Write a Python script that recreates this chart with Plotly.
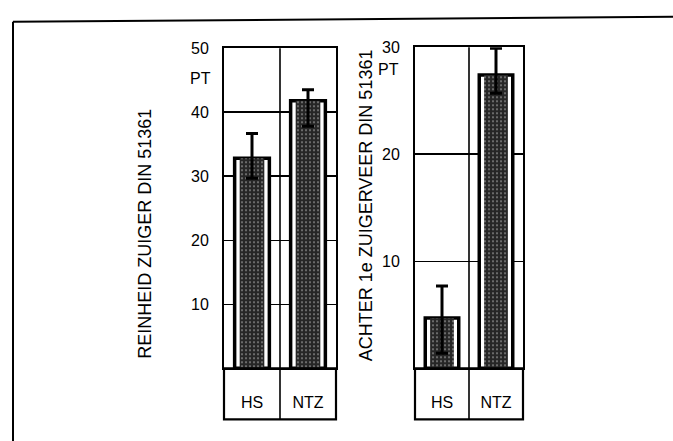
import plotly.graph_objects as go

# ---- data ----
categories = ["HS", "NTZ"]

reinheid_mean = [32.8, 41.8]
reinheid_upper = [36.7, 43.5]
reinheid_lower = [29.7, 37.8]

achter_mean = [4.7, 27.4]
achter_upper = [7.7, 29.9]
achter_lower = [1.4, 25.7]

left_ticks = [10, 20, 30, 40, 50]
right_ticks = [10, 20, 30]
left_title = "REINHEID ZUIGER DIN 51361"
right_title = "ACHTER 1e ZUIGERVEER DIN 51361"
unit_label = "PT"

# ---- layout geometry (pixels) ----
W, H = 673, 441
FONT = "Liberation Sans, Arial, Helvetica, sans-serif"


def px_x(p):
    return p / W


def px_y(p):
    return 1 - p / H


left_box = dict(x0=224, x1=336, y0=41, y1=367)
right_box = dict(x0=415, x1=523, y0=40, y1=367)
row_h = 52  # height of category row under each panel

fig = go.Figure()


def add_panel(mean, upper, lower, xa, ya):
    plus = [u - m for u, m in zip(upper, mean)]
    minus = [m - l for m, l in zip(mean, lower)]
    fig.add_trace(go.Bar(
        x=categories, y=mean, width=0.62, xaxis=xa, yaxis=ya,
        marker=dict(color="white", line=dict(color="black", width=3.5)),
        hoverinfo="skip",
    ))
    fig.add_trace(go.Bar(
        x=categories, y=mean, width=0.44, xaxis=xa, yaxis=ya,
        marker=dict(
            color="#262626",
            line=dict(width=0),
            pattern=dict(shape=".", fgcolor="#d0d0d0", size=4,
                         solidity=0.22, fillmode="overlay"),
        ),
        error_y=dict(type="data", symmetric=False, array=plus,
                     arrayminus=minus, color="black", thickness=3, width=6),
    ))


add_panel(reinheid_mean, reinheid_upper, reinheid_lower, "x", "y")
add_panel(achter_mean, achter_upper, achter_lower, "x2", "y2")


def xaxis_cfg(box):
    return dict(
        domain=[px_x(box["x0"]), px_x(box["x1"])],
        type="category", range=[-0.5, 1.5],
        showline=True, mirror=True, linecolor="black", linewidth=2,
        showgrid=False, zeroline=False, ticks="",
        ticklabelstandoff=18,
        tickfont=dict(family=FONT, size=16, color="black"),
        fixedrange=True,
    )


def yaxis_cfg(box, rng, ticks, anchor):
    return dict(
        domain=[px_y(box["y1"]), px_y(box["y0"])],
        range=rng, tickvals=ticks, ticktext=[str(t) for t in ticks],
        showline=True, mirror=True, linecolor="black", linewidth=2,
        showgrid=True, gridcolor="black", gridwidth=1.6,
        zeroline=False, ticks="", ticklabelstandoff=10,
        tickfont=dict(family=FONT, size=16, color="black"),
        anchor=anchor, fixedrange=True,
    )


fig.update_layout(
    width=W, height=H,
    margin=dict(l=0, r=0, t=0, b=0),
    paper_bgcolor="white", plot_bgcolor="white",
    showlegend=False, barmode="overlay",
    font=dict(family=FONT, color="black"),
    xaxis=dict(xaxis_cfg(left_box), anchor="y"),
    yaxis=yaxis_cfg(left_box, [0, 50], left_ticks, "x"),
    xaxis2=dict(xaxis_cfg(right_box), anchor="y2"),
    yaxis2=yaxis_cfg(right_box, [0, 30], right_ticks, "x2"),
)

shapes = []
for xa, ya, box in (("x", "y", left_box), ("x2", "y2", right_box)):
    frac = row_h / (box["y1"] - box["y0"])
    shapes.append(dict(type="rect", xref=f"{xa} domain", yref=f"{ya} domain",
                       x0=0, x1=1, y0=-frac, y1=0,
                       line=dict(color="black", width=2.2)))
    shapes.append(dict(type="line", xref=xa, yref=f"{ya} domain",
                       x0=0.5, x1=0.5, y0=-frac, y1=1,
                       line=dict(color="black", width=1.6), layer="below"))

# outer scan frame (top and left edges)
shapes.append(dict(type="line", xref="paper", yref="paper",
                   x0=px_x(13), x1=1, y0=px_y(14), y1=px_y(9),
                   line=dict(color="black", width=2)))
shapes.append(dict(type="line", xref="paper", yref="paper",
                   x0=px_x(13), x1=px_x(13), y0=px_y(14), y1=0,
                   line=dict(color="black", width=2)))
fig.update_layout(shapes=shapes)

annotations = [
    dict(text=unit_label, xref="paper", yref="paper", x=px_x(213), y=px_y(72),
         xanchor="right", yanchor="middle", showarrow=False,
         font=dict(family=FONT, size=16, color="black")),
    dict(text=unit_label, xref="paper", yref="paper", x=px_x(401), y=px_y(63),
         xanchor="right", yanchor="middle", showarrow=False,
         font=dict(family=FONT, size=16, color="black")),
    dict(text=left_title, xref="paper", yref="paper", x=px_x(145), y=px_y(230),
         xanchor="center", yanchor="middle", textangle=-90, showarrow=False,
         font=dict(family=FONT, size=18, color="black")),
    dict(text=right_title, xref="paper", yref="paper", x=px_x(366), y=px_y(201),
         xanchor="center", yanchor="middle", textangle=-90, showarrow=False,
         font=dict(family=FONT, size=18, color="black")),
]
fig.update_layout(annotations=annotations)

fig.write_html(
    "out.html",
    config={"displayModeBar": False, "staticPlot": True},
    post_script="document.body.style.margin='0';"
                "document.body.style.padding='0';"
                "document.documentElement.style.overflow='hidden';",
)
